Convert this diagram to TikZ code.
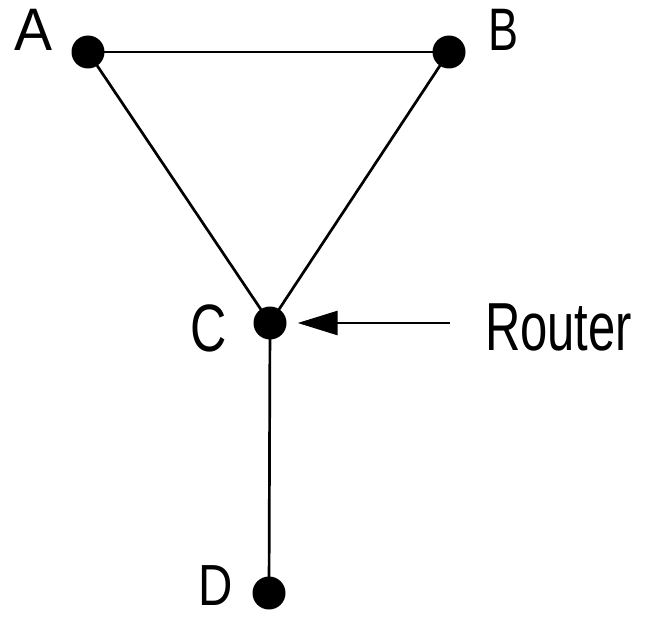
\documentclass[tikz,border=0pt]{standalone}
\usepackage{fontspec}
\setmainfont{Liberation Sans}
\usetikzlibrary{arrows.meta}
\begin{document}
\begin{tikzpicture}[x=1pt,y=-1pt,
  dot/.style={circle,fill=black,inner sep=0pt,minimum size=33pt},
  lbl/.style={inner sep=0pt,font=\fontsize{60}{60}\selectfont},
  edge/.style={line width=2.7pt}]
\useasboundingbox (0,0) rectangle (654,618);
\node[dot] (A) at (88,52) {};
\node[dot] (B) at (449,52) {};
\node[dot] (C) at (270,323) {};
\node[dot] (D) at (269,593) {};
\node[lbl] (la) at (34,30) {\scalebox{0.95}[1]{A}};
\node[lbl] (lb) at (504,30) {\scalebox{0.75}[1]{B}};
\node[lbl,font=\fontsize{67}{67}\selectfont] (lc) at (209,328) {\scalebox{0.75}[1]{C}};
\node[lbl,font=\fontsize{58}{58}\selectfont] (ld) at (216,586) {\scalebox{0.82}[1]{D}};
\node[lbl,font=\fontsize{68}{68}\selectfont,anchor=west] (rt) at (485,327) {\scalebox{0.72}[1]{Router}};
\coordinate (rs) at (450,323);
\draw[edge] (A.center) -- (B.center);
\draw[edge] (A.center) -- (C.center);
\draw[edge] (B.center) -- (C.center);
\draw[edge] (C.center) -- (D.center);
\draw[edge,-{Triangle[length=40pt,width=24pt]},shorten >=11pt] (rs) -- (C);
\end{tikzpicture}
\end{document}
